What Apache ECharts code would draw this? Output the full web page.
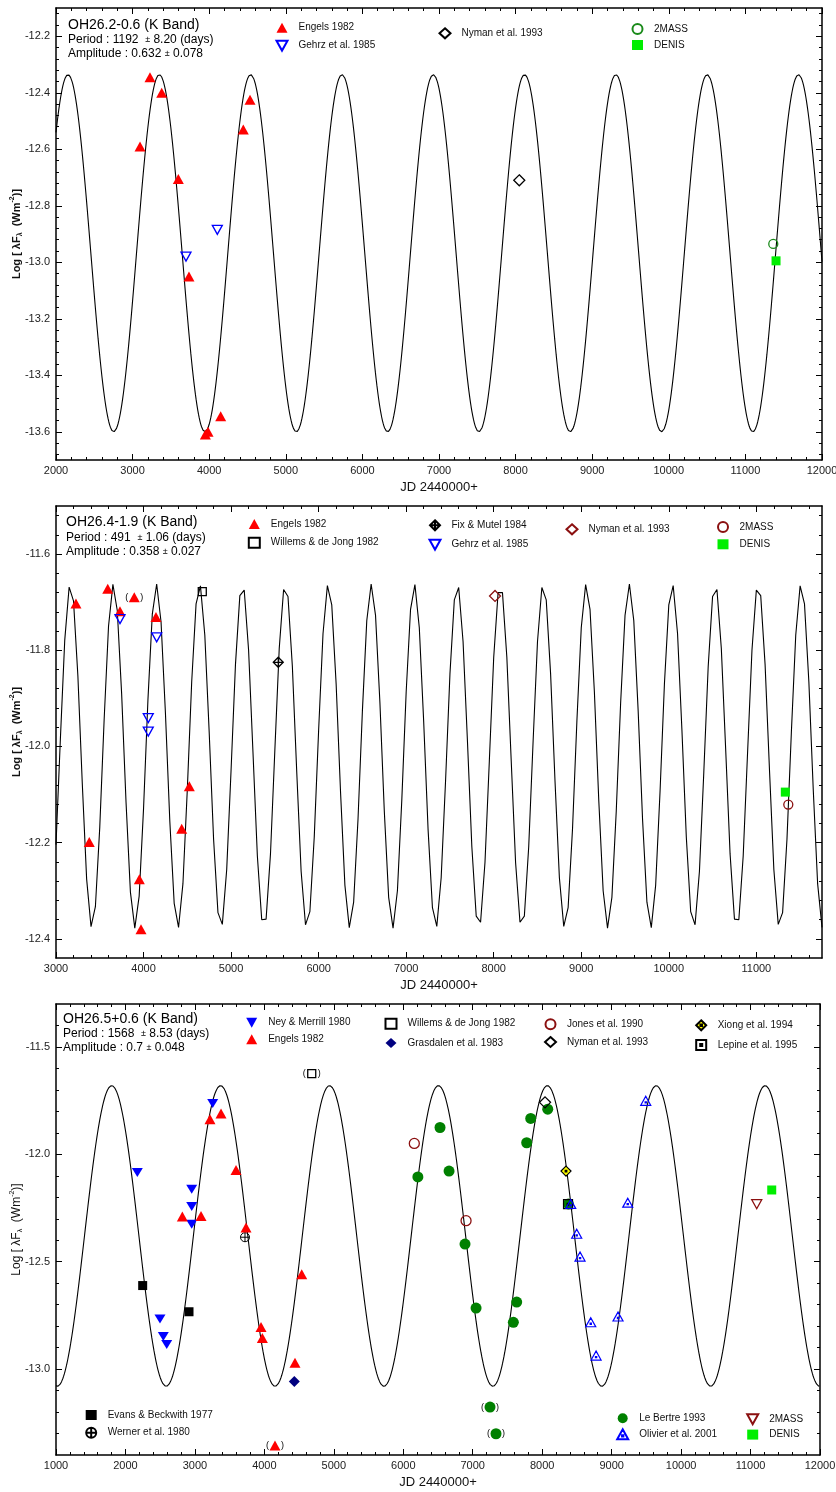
<!DOCTYPE html>
<html><head><meta charset="utf-8">
<script src="https://cdn.jsdelivr.net/npm/echarts@6/dist/echarts.min.js"></script>
<style>html,body{margin:0;padding:0;background:#fff}#c{width:836px;height:1492px}</style>
</head><body><div id="c"></div><script>
const FONT = '"Liberation Sans", Arial, Helvetica, sans-serif';

// ---------- tick labels ----------
const p1XTicks = [2000,3000,4000,5000,6000,7000,8000,9000,10000,11000,12000];
const p1YTicks = [-13.6,-13.4,-13.2,-13.0,-12.8,-12.6,-12.4,-12.2];
const p2XTicks = [3000,4000,5000,6000,7000,8000,9000,10000,11000];
const p2YTicks = [-12.4,-12.2,-12.0,-11.8,-11.6];
const p3XTicks = [1000,2000,3000,4000,5000,6000,7000,8000,9000,10000,11000,12000];
const p3YTicks = [-13.0,-12.5,-12.0,-11.5];

// ---------- fit models (from the parameters printed on the chart) ----------
const p1Fit = {period:1192, amplitude:0.632, mean:-12.968, epochMax:2157, from:2000, to:12000, step:10};
const p2Fit = {period:491,  amplitude:0.358, mean:-12.020, epochMax:3165, from:3000, to:11750, step:50};
const p3Fit = {period:1568, amplitude:0.700, mean:-12.380, epochMax:1802, from:1000, to:12000, step:10};

// ---------- Panel 1 : OH26.2-0.6 ----------
const p1Engels = [[3097,-12.59],[3227,-12.345],[3380,-12.40],[3597,-12.705],[4445,-12.53],[4533,-12.425],[3736,-13.05],[3950,-13.61],[3985,-13.60],[4150,-13.545]];
const p1Gehrz  = [[3697,-12.98],[4106,-12.885]];
const p1Nyman  = [[8048,-12.71]];
const p1TwoMass = [[11364,-12.935]];
const p1Denis  = [[11400,-12.995]];

// ---------- Panel 2 : OH26.4-1.9 ----------
const p2Engels = [[3228,-11.703],[3591,-11.672],[3731,-11.719],[4142,-11.731],[3380,-12.199],[3952,-12.276],[3971,-12.38],[4436,-12.171],[4523,-12.083]];
const p2EngelsBracketed = [[3894,-11.69]];
const p2Willems = [[4671,-11.678]];
const p2FixMutel = [[5539,-11.825]];
const p2Gehrz = [[3731,-11.735],[4150,-11.773],[4054,-11.941],[4054,-11.969]];
const p2Nyman = [[8015,-11.687]];
const p2TwoMass = [[11365,-12.121]];
const p2Denis = [[11331,-12.095]];

// ---------- Panel 3 : OH26.5+0.6 ----------
const p3Ney = [[2171,-12.085],[2954,-12.163],[2954,-12.243],[2954,-12.325],[3256,-11.763],[2497,-12.767],[2545,-12.848],[2594,-12.886]];
const p3Engels = [[2819,-12.29],[3088,-12.287],[3217,-11.837],[3376,-11.81],[3592,-12.073],[3736,-12.341],[3952,-12.804],[3971,-12.855],[4441,-12.971],[4538,-12.558]];
const p3EngelsBracketed = [[4153,-13.356]];
const p3WillemsBracketed = [[4682,-11.624]];
const p3Grasdalen = [[4431,-13.058]];
const p3Jones = [[6159,-11.949],[6904,-12.309]];
const p3Nyman = [[8041,-11.758]];
const p3Xiong = [[8343,-12.078]];
const p3Lepine = [[8372,-12.232]];
const p3Evans = [[2248,-12.611],[2915,-12.733]];
const p3Werner = [[3721,-12.386]];
const p3LeBertre = [[6210,-12.105],[6529,-11.875],[6659,-12.078],[6889,-12.418],[7048,-12.716],[7585,-12.782],[7633,-12.688],[7777,-11.946],[7835,-11.833],[8080,-11.79],[8377,-12.231]];
const p3LeBertreBracketed = [[7249,-13.177],[7335,-13.301]];
const p3Olivier = [[8411,-12.231],[8497,-12.37],[8545,-12.476],[8699,-12.782],[8776,-12.937],[9092,-12.755],[9232,-12.225],[9491,-11.751]];
const p3TwoMass = [[11089,-12.232]];
const p3Denis = [[11305,-12.166]];

// ---------- helpers ----------
function fitCurve(f){
  const out=[]; const n=Math.round((f.to-f.from)/f.step);
  for(let i=0;i<=n;i++){const t=f.from+i*f.step; out.push([t, f.mean + f.amplitude*Math.cos(2*Math.PI*(t-f.epochMax)/f.period)]);}
  return out;
}
function steps(a,b,step,exclude){
  const out=[]; const n=Math.round((b-a)/step);
  for(let i=0;i<=n;i++){const v=+(a+i*step).toFixed(4); if(!exclude.some(e=>Math.abs(e-v)<1e-6)) out.push(v);}
  return out;
}

const TRI_UP = 'triangle';
const TRI_DOWN = 'path://M0,0 L10,0 L5,9 Z';
const DIAMOND_PLUS = 'path://M5,0 L10,5 L5,10 L0,5 Z M5,0 L5,10 M0,5 L10,5';
const CIRCLE_PLUS = 'path://M0,5 A5,5 0 1 1 10,5 A5,5 0 1 1 0,5 Z M5,0 L5,10 M0,5 L10,5';
const SQUARE_DOT = 'path://M0,0 L10,0 L10,10 L0,10 Z M4,4 L6,4 L6,6 L4,6 Z';
const TRI_DOT = 'path://M5,0 L10,9 L0,9 Z M4.4,5.4 L5.6,5.4 L5.6,6.6 L4.4,6.6 Z';
const DIAMOND_DOT = 'path://M5,0 L10,5 L5,10 L0,5 Z M4.2,4.2 L5.8,4.2 L5.8,5.8 L4.2,5.8 Z';

const filled = c => ({color:c, borderWidth:0, opacity:1});
const hollow = (c,w) => ({color:'rgba(0,0,0,0)', borderColor:c, borderWidth:w||1.3, opacity:1});

const RED='#ff0000', BLUE='#0000ff', BROWN='#8b1010', LIME='#00ee00', DGREEN='#008000', NAVY='#000080';

const grids = [
  {left:56, top:8,    width:766, height:452},
  {left:56, top:506,  width:766, height:452},
  {left:56, top:1004, width:764, height:451}
];
const panels = [
  {xMin:2000,xMax:12000,yMin:-13.7,yMax:-12.1,xTicks:p1XTicks,yTicks:p1YTicks,
   xMinor:steps(2000,12000,200,p1XTicks), yMinor:steps(-13.68,-12.12,0.04,p1YTicks), bold:true, nameSize:11},
  {xMin:3000,xMax:11750,yMin:-12.44,yMax:-11.5,xTicks:p2XTicks,yTicks:p2YTicks,
   xMinor:steps(3000,11600,200,p2XTicks), yMinor:steps(-12.40,-11.52,0.04,p2YTicks), bold:true, nameSize:11},
  {xMin:1000,xMax:12000,yMin:-13.4,yMax:-11.3,xTicks:p3XTicks,yTicks:p3YTicks,
   xMinor:steps(1000,12000,200,p3XTicks), yMinor:steps(-13.3,-11.4,0.1,p3YTicks), bold:false, nameSize:12}
];

const xAxes=[], yAxes=[];
panels.forEach((p,gi)=>{
  const base = extra => Object.assign({type:'value', gridIndex:gi, splitLine:{show:false}, minorTick:{show:false}, minorSplitLine:{show:false}, animation:false, nameMoveOverlap:false}, extra);
  ['bottom','top'].forEach(pos=>{
    [true,false].forEach(major=>{
      const lab = pos==='bottom' && major;
      xAxes.push(base({position:pos, min:p.xMin, max:p.xMax,
        axisLine:{show:major, onZero:false, lineStyle:{color:'#000', width:1.5}},
        axisTick:{show:true, inside:true, length:major?6:3, customValues:major?p.xTicks:p.xMinor, lineStyle:{color:'#000', width:1}},
        axisLabel: lab ? {show:true, customValues:p.xTicks, margin:5, fontSize:11, color:'#222', fontFamily:FONT, formatter:v=>String(v)} : {show:false},
        name: lab ? 'JD 2440000+' : '', nameLocation:'middle', nameGap:21,
        nameTextStyle:{fontSize:13, color:'#111', fontFamily:FONT}
      }));
    });
  });
  ['left','right'].forEach(pos=>{
    [true,false].forEach(major=>{
      const lab = pos==='left' && major;
      const fw = p.bold ? 'bold' : 'normal';
      yAxes.push(base({position:pos, min:p.yMin, max:p.yMax,
        axisLine:{show:major, onZero:false, lineStyle:{color:'#000', width:1.5}},
        axisTick:{show:true, inside:true, length:major?6:3, customValues:major?p.yTicks:p.yMinor, lineStyle:{color:'#000', width:1}},
        axisLabel: lab ? {show:true, customValues:p.yTicks, margin:6, fontSize:11, color:'#222', fontFamily:FONT, formatter:v=>v.toFixed(1)} : {show:false},
        name: lab ? '{n|Log [ λF}{s|λ}{n|  (Wm}{p|-2}{n|)]}' : '', nameLocation:'middle', nameGap:32,
        nameTextStyle:{fontFamily:FONT, color:'#111', rich:{
          n:{fontSize:p.nameSize, fontWeight:fw, lineHeight:15, fontFamily:FONT, color:'#111'},
          s:{fontSize:7, fontWeight:fw, lineHeight:8, verticalAlign:'bottom', fontFamily:FONT, color:'#111'},
          p:{fontSize:7, fontWeight:fw, lineHeight:8, verticalAlign:'top', fontFamily:FONT, color:'#111'}}}
      }));
    });
  });
});

const series = [];
const ZW = ['', '\u200b', '\u200b\u200b'];
function curve(gi, f){
  series.push({type:'line', xAxisIndex:gi*4, yAxisIndex:gi*4, data:fitCurve(f), showSymbol:false, symbol:'none',
    lineStyle:{color:'#000', width:1.1}, silent:true, z:1, clip:true, animation:false});
}
function pts(gi, name, data, symbol, size, itemStyle, bracket){
  const s = {type:'scatter', name:name+ZW[gi], xAxisIndex:gi*4, yAxisIndex:gi*4, data:data, symbol:symbol, symbolSize:size,
    itemStyle:itemStyle, z:3, animation:false, emphasis:{disabled:true}};
  if (bracket) s.label = {show:true, position:'inside', formatter:'({g| })', color:'#000', fontSize:9, fontFamily:FONT,
    rich:{g:{width:12, fontSize:9}}};
  series.push(s);
}

// panel 1
curve(0, p1Fit);
pts(0,'Engels 1982', p1Engels, TRI_UP, [11,10], filled(RED));
pts(0,'Gehrz et al. 1985', p1Gehrz, TRI_DOWN, [10,9], hollow(BLUE));
pts(0,'Nyman et al. 1993', p1Nyman, 'diamond', [11,11], hollow('#000'));
pts(0,'2MASS', p1TwoMass, 'circle', 9, hollow('#1a8a1a'));
pts(0,'DENIS', p1Denis, 'rect', 9, filled(LIME));

// panel 2
curve(1, p2Fit);
pts(1,'Engels 1982', p2Engels, TRI_UP, [11,10], filled(RED));
pts(1,'Engels 1982', p2EngelsBracketed, TRI_UP, [11,10], filled(RED), true);
pts(1,'Willems & de Jong 1982', p2Willems, 'rect', 8, hollow('#000'));
pts(1,'Fix & Mutel 1984', p2FixMutel, DIAMOND_PLUS, 10, hollow('#000'));
pts(1,'Gehrz et al. 1985', p2Gehrz, TRI_DOWN, [10,9], hollow(BLUE));
pts(1,'Nyman et al. 1993', p2Nyman, 'diamond', [11,11], hollow(BROWN));
pts(1,'2MASS', p2TwoMass, 'circle', 9, hollow(BROWN));
pts(1,'DENIS', p2Denis, 'rect', 9, filled(LIME));

// panel 3
curve(2, p3Fit);
pts(2,'Evans & Beckwith 1977', p3Evans, 'rect', 9, filled('#000'));
pts(2,'Werner et al. 1980', p3Werner, CIRCLE_PLUS, 9, hollow('#000',1));
pts(2,'Ney & Merrill 1980', p3Ney, TRI_DOWN, [11,9], filled(BLUE));
pts(2,'Engels 1982', p3Engels, TRI_UP, [11,10], filled(RED));
pts(2,'Engels 1982', p3EngelsBracketed, TRI_UP, [11,10], filled(RED), true);
pts(2,'Willems & de Jong 1982', p3WillemsBracketed, 'rect', 8, hollow('#000'), true);
pts(2,'Grasdalen et al. 1983', p3Grasdalen, 'diamond', [11,11], filled(NAVY));
pts(2,'Jones et al. 1990', p3Jones, 'circle', 10, hollow(BROWN));
pts(2,'Le Bertre 1993', p3LeBertre, 'circle', 11, filled(DGREEN));
pts(2,'Le Bertre 1993', p3LeBertreBracketed, 'circle', 11, filled(DGREEN), true);
pts(2,'Nyman et al. 1993', p3Nyman, 'diamond', [11,11], hollow('#000'));
pts(2,'Xiong et al. 1994', p3Xiong, DIAMOND_DOT, 10, {color:'#ffff00', borderColor:'#000', borderWidth:1.2, opacity:1});
pts(2,'Lepine et al. 1995', p3Lepine, SQUARE_DOT, 9, hollow('#000',1.2));
pts(2,'Olivier et al. 2001', p3Olivier, TRI_DOT, [10,9], hollow(BLUE,1.2));
pts(2,'2MASS', p3TwoMass, TRI_DOWN, [10,9], hollow(BROWN));
pts(2,'DENIS', p3Denis, 'rect', 9, filled(LIME));

function lg(left, top, names, gi, gap){
  return {left:left, top:top, orient:'vertical', itemGap:gap, itemWidth:11, itemHeight:10, padding:0,
    selectedMode:false, data:names.map(n=>n+ZW[gi]),
    formatter:n=>n.replace(/\u200b/g,''),
    textStyle:{fontSize:10, lineHeight:10, color:'#111', fontFamily:FONT, padding:[0,0,0,6]}};
}
const legends = [
  lg(275.5, 22.7, ['Engels 1982','Gehrz et al. 1985'], 0, 7),
  lg(438.5, 27.3, ['Nyman et al. 1993'], 0, 7),
  lg(631.5, 23, ['2MASS','DENIS'], 0, 5),
  lg(247.8, 519, ['Engels 1982','Willems & de Jong 1982'], 1, 7.7),
  lg(428.5, 519.3, ['Fix & Mutel 1984','Gehrz et al. 1985'], 1, 7.4),
  lg(565.5, 523.3, ['Nyman et al. 1993'], 1, 7),
  lg(717, 521, ['2MASS','DENIS'], 1, 6.3),
  lg(246.2, 1017.7, ['Ney & Merrill 1980','Engels 1982'], 2, 6.6),
  lg(384.5, 1017.7, ['Willems & de Jong 1982','Grasdalen et al. 1983'], 2, 8.3),
  lg(544, 1018.3, ['Jones et al. 1990','Nyman et al. 1993'], 2, 5.7),
  lg(695.2, 1019.3, ['Xiong et al. 1994','Lepine et al. 1995'], 2, 7.7),
  lg(85.2, 1410, ['Evans & Beckwith 1977','Werner et al. 1980'], 2, 6.7),
  lg(616.2, 1413.3, ['Le Bertre 1993','Olivier et al. 2001'], 2, 5),
  lg(746.2, 1413.3, ['2MASS','DENIS'], 2, 4.4)
];

function ttl(left, top, star, period, perr, amp, aerr){
  return {left:left, top:top, padding:0,
    text:'{a|'+star+' (K Band)}\n{b|Period : '+period+'  }{c|±}{b| '+perr+' (days)}\n{b|Amplitude : '+amp+' }{c|±}{b| '+aerr+'}',
    textStyle:{fontWeight:'normal', rich:{
      a:{fontSize:14, lineHeight:16, color:'#000', fontFamily:FONT, fontWeight:'normal'},
      b:{fontSize:12, lineHeight:14, color:'#000', fontFamily:FONT, fontWeight:'normal'},
      c:{fontSize:9, lineHeight:14, color:'#000', fontFamily:FONT, fontWeight:'normal'}}}};
}
const titles = [
  ttl(68, 17, 'OH26.2-0.6', '1192', '8.20', '0.632', '0.078'),
  ttl(66, 514.5, 'OH26.4-1.9', '491', '1.06', '0.358', '0.027'),
  ttl(63, 1011, 'OH26.5+0.6', '1568', '8.53', '0.7', '0.048')
];

const chart = echarts.init(document.getElementById('c'), null, {renderer:'canvas'});
chart.setOption({
  animation:false,
  backgroundColor:'#fff',
  textStyle:{fontFamily:FONT},
  title:titles,
  legend:legends,
  grid:grids.map(g=>Object.assign({outerBoundsMode:'none', containLabel:false}, g)),
  xAxis:xAxes,
  yAxis:yAxes,
  series:series
});
</script></body></html>
